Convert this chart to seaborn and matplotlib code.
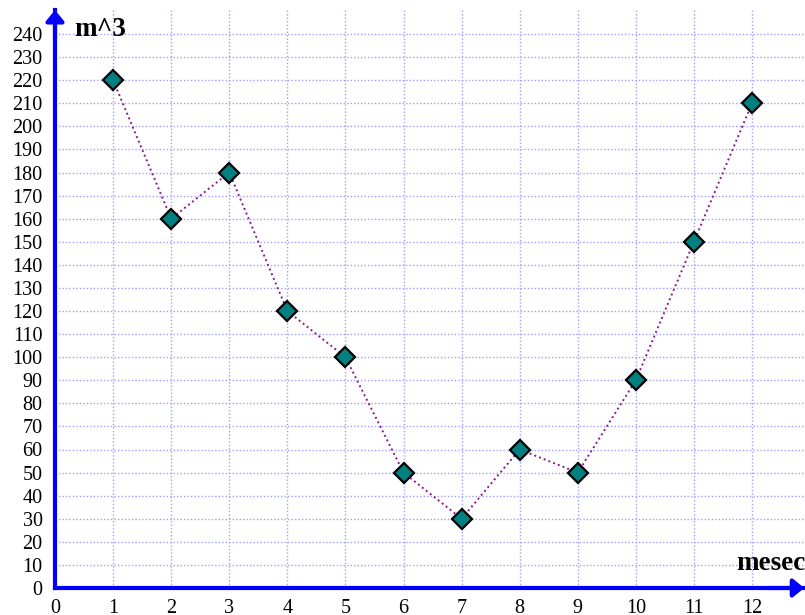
import matplotlib
matplotlib.use("Agg")
import matplotlib.pyplot as plt
import seaborn as sns
import pandas as pd

months = [1, 2, 3, 4, 5, 6, 7, 8, 9, 10, 11, 12]
volume = [220, 160, 180, 120, 100, 50, 30, 60, 50, 90, 150, 210]
x_ticks = list(range(0, 13))
y_ticks = list(range(0, 250, 10))
x_label = "mesec"
y_label = "m^3"

sns.set_theme(style="white")
plt.rcParams['font.family'] = ['Liberation Serif', 'DejaVu Serif']
plt.rcParams['text.color'] = 'black'

df = pd.DataFrame({"mesec": months, "m3": volume})

fig = plt.figure(figsize=(8.05, 6.15), dpi=100)
W, H = 805, 615
x0, x1 = 55, 805
y0, y1 = 588, 10
ax = fig.add_axes([x0 / W, (H - y0) / H, (x1 - x0) / W, (y0 - y1) / H])
ppx = (752 - 55) / 12.0
ppy = (588 - 34) / 240.0
ax.set_xlim(0, (x1 - x0) / ppx)
ax.set_ylim(0, (y0 - y1) / ppy)

ax.grid(True, color="#9f9fff", linestyle=(0, (1, 1.5)), linewidth=1.0)
ax.set_axisbelow(True)

sns.lineplot(data=df, x="mesec", y="m3", ax=ax, color="#8b1a8b",
             linestyle=(0, (1, 1.6)), linewidth=1.4, marker="D",
             markersize=10, markerfacecolor="#008080",
             markeredgecolor="black", markeredgewidth=1.6, zorder=5)

ax.set_xticks(x_ticks)
ax.set_yticks(y_ticks)
ax.set_xticklabels([str(v) for v in x_ticks])
ax.set_yticklabels([str(v) for v in y_ticks])
ax.set_xlabel("")
ax.set_ylabel("")

for s in ["top", "right"]:
    ax.spines[s].set_visible(False)
for s in ["left", "bottom"]:
    ax.spines[s].set_color("blue")
    ax.spines[s].set_linewidth(3)
    ax.spines[s].set_zorder(6)

ax.tick_params(axis="both", direction="inout", length=16, width=1.6,
               color="blue", labelsize=14.5, labelcolor="black")
ax.tick_params(axis="x", pad=0)
ax.tick_params(axis="y", pad=1)

# arrows
arrow_style = "-|>,head_length=0.55,head_width=0.45"
ax.annotate("", xy=(0, 1.0), xycoords="axes fraction", xytext=(0, 0.95),
            arrowprops=dict(arrowstyle=arrow_style, color="blue", lw=3,
                            shrinkA=0, shrinkB=0), annotation_clip=False)
ax.annotate("", xy=(0.999, 0), xycoords="axes fraction", xytext=(0.95, 0),
            arrowprops=dict(arrowstyle=arrow_style, color="blue", lw=3,
                            shrinkA=0, shrinkB=0), annotation_clip=False)

ax.text(19 / (x1 - x0), (y0 - 29) / (y0 - y1), y_label, transform=ax.transAxes,
        fontsize=19.5, fontweight="bold", va="center", ha="left", color="black")
ax.text(1.0, (y0 - 563) / (y0 - y1), x_label, transform=ax.transAxes,
        fontsize=19.5, fontweight="bold", va="center", ha="right", color="black")

fig.savefig("out.png", dpi=100)
